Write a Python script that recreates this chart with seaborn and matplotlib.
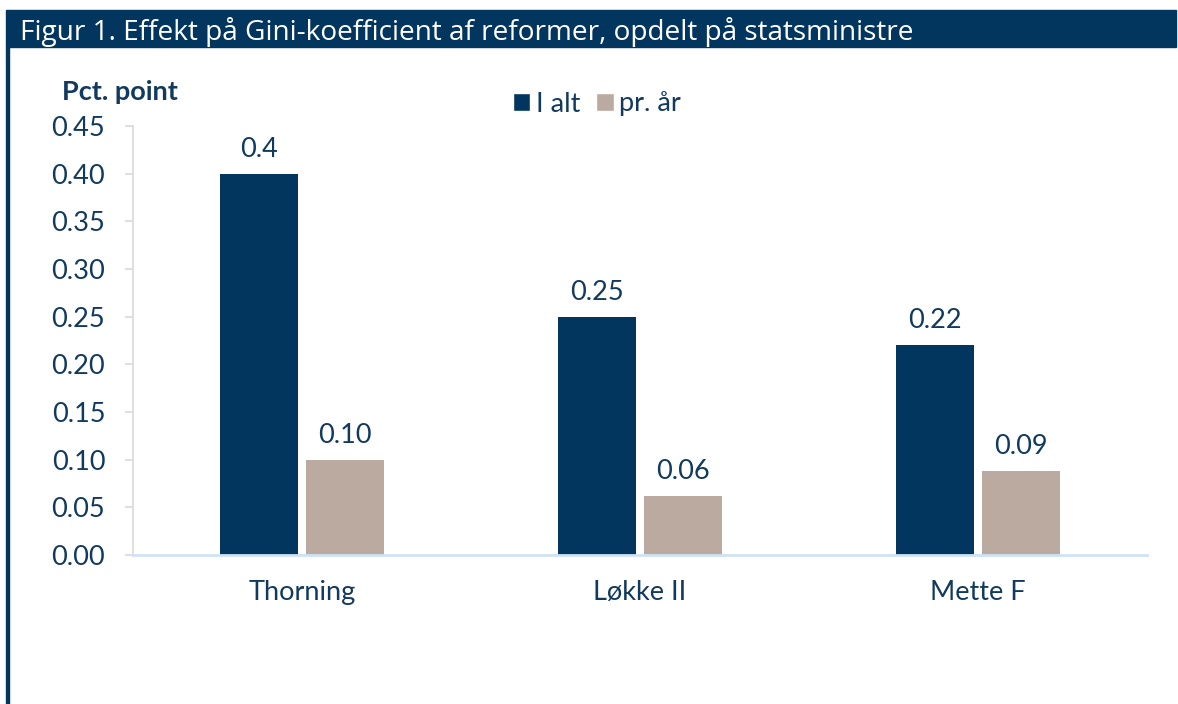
import matplotlib
matplotlib.use("Agg")
import matplotlib.pyplot as plt
from matplotlib.patches import Rectangle, Patch
import seaborn as sns
import pandas as pd

# ---- data ----
categories = ["Thorning", "Løkke II", "Mette F"]
series_names = ["I alt", "pr. år"]
i_alt = [0.40, 0.25, 0.22]
pr_aar = [0.10, 0.062, 0.088]
i_alt_labels = ["0.4", "0.25", "0.22"]
pr_aar_labels = ["0.10", "0.06", "0.09"]
yticks = [0.00, 0.05, 0.10, 0.15, 0.20, 0.25, 0.30, 0.35, 0.40, 0.45]
title = "Figur 1. Effekt på Gini-koefficient af reformer, opdelt på statsministre"
ylabel = "Pct. point"

NAVY = "#02365F"
BEIGE = "#BBAA9F"
TEXT = "#123A5E"
FS = 19.5

df = pd.DataFrame({
    "cat": categories * 2,
    "serie": [series_names[0]] * 3 + [series_names[1]] * 3,
    "val": i_alt + pr_aar,
})

sns.set_theme(style="white")
plt.rcParams["font.family"] = ["Lato", "DejaVu Sans"]

W, H = 1178, 704
fig = plt.figure(figsize=(W / 100, H / 100), dpi=100)
ax = fig.add_axes([133 / W, 1 - 555 / H, (1147 - 133) / W, (555 - 126) / H])

sns.barplot(data=df, x="cat", y="val", hue="serie", order=categories,
            hue_order=series_names, palette=[NAVY, BEIGE], width=0.51, gap=0.09,
            saturation=1, ax=ax, legend=False, edgecolor="none")

labels_all = [i_alt_labels, pr_aar_labels]
for cont, labs in zip(ax.containers, labels_all):
    ax.bar_label(cont, labels=labs, padding=8.5, fontsize=FS, color=TEXT)

ax.set_xlim(-0.5, 2.5)
ax.set_ylim(0, 0.45)
ax.set_yticks(yticks)
ax.set_yticklabels([f"{t:.2f}" for t in yticks])
ax.set_xlabel("")
ax.set_ylabel("")
for s in ["top", "right"]:
    ax.spines[s].set_visible(False)
ax.spines["left"].set_color("#D9D9D9")
ax.spines["left"].set_linewidth(1.2)
ax.spines["bottom"].set_color("#CFE3F5")
ax.spines["bottom"].set_linewidth(2)
ax.tick_params(axis="y", length=6, width=1.2, color="#D9D9D9", pad=14,
               labelsize=FS, labelcolor=TEXT, left=True)
ax.tick_params(axis="x", length=0, pad=18, labelsize=FS, labelcolor=TEXT)

# title bar and left border
fig.patches.append(Rectangle((6 / W, 1 - 47 / H), (1176 - 6) / W, 37 / H,
                             transform=fig.transFigure, color=NAVY, zorder=0))
fig.patches.append(Rectangle((6 / W, 0), 3 / W, 1 - 47 / H,
                             transform=fig.transFigure, color=NAVY, zorder=0))
fig.text(20 / W, 1 - 40 / H, title, color="white", fontsize=20.2,
         family=["Open Sans", "DejaVu Sans"], va="baseline", ha="left")

fig.text(120 / W, 1 - 92 / H, ylabel, color=TEXT, fontsize=FS,
         fontweight="bold", ha="center", va="center")

handles = [Patch(facecolor=NAVY, label=series_names[0]),
           Patch(facecolor=BEIGE, label=series_names[1])]
leg = fig.legend(handles=handles, loc="center", bbox_to_anchor=(597 / W, 1 - 104 / H),
                 ncol=2, frameon=False, fontsize=FS, handlelength=0.65,
                 handleheight=0.65, handletextpad=0.2, columnspacing=0.6)
for t in leg.get_texts():
    t.set_color(TEXT)

fig.savefig("out.png", dpi=100, facecolor="white")
